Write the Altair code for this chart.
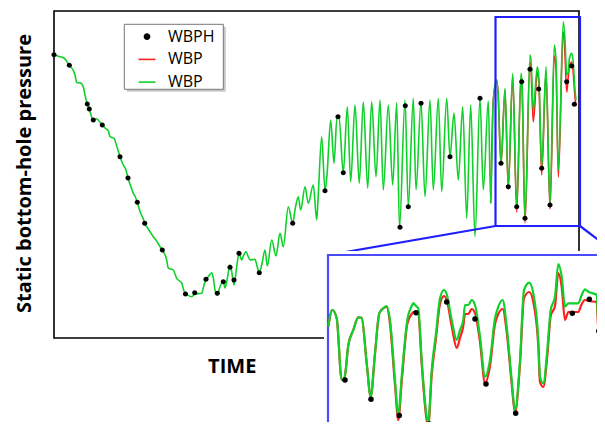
import altair as alt
import pandas as pd

# ---------------- main panel (time / pressure, arbitrary units) ----------------
main_t = [0, 6, 10, 15.3, 19, 21, 22.7, 26, 29.3, 31,
          33.3, 35.3, 37, 39.3, 42.7, 45, 48.3, 51, 54.3, 56,
          60, 63, 66, 69.3, 72, 74, 77, 79.3, 81, 83.3,
          86.7, 89, 90.7, 93, 96, 99.3, 102, 105, 108.3, 112.7,
          114.3, 117, 119.3, 122.7, 127.7, 130, 133, 137.7, 141, 147.7,
          150, 152, 154.3, 157.7, 159.3, 161, 163.3, 166, 169.3, 171,
          173.3, 176, 177.7, 180, 182.7, 185, 187.7, 189, 192, 194,
          196, 201, 203, 205.3, 207.7, 211, 213.3, 217.7, 222, 226,
          229.3, 234.3, 238.7, 241, 244.3, 246.7, 251, 254.3, 259.3, 262.7,
          264, 267.7, 271, 273, 276.7, 280, 283, 285, 289.3, 293.3,
          296.7, 301, 305.3, 309.3, 313.7, 317.7, 322, 326, 329.3, 334.3,
          338.7, 342.7, 345.5, 351, 354.3, 359.3, 362, 367, 371, 376,
          379.3, 384.3, 387.7, 392.7, 396, 400, 404.3, 408.7, 412.7, 416.7,
          421, 426, 429.3, 434.3, 436.7, 439.3, 442.7, 444, 447, 451,
          454.3, 458.7, 462.7, 467, 468, 471, 476, 477, 479.3, 483.3,
          485, 487.7, 492, 496, 500.3, 502, 504.3, 509.3, 511, 512.7,
          514, 515.5, 517.7, 519, 521, 522]
main_green_p = [283.3, 281.3, 280, 272.7, 268, 263, 255.3, 255.3, 251.3, 243,
                234, 229, 223, 218, 219.3, 217, 213, 210, 207, 201.3,
                199.7, 191, 181.3, 173, 168, 160, 151, 144.7, 142, 135.7,
                124.7, 120, 114.7, 111, 106.3, 101.3, 98, 93, 88, 78,
                69.7, 69, 68, 59.7, 55, 47, 43.5, 41.3, 44, 44.7,
                53, 58.7, 61.3, 65.3, 60, 48, 43, 51.3, 56.3, 50,
                59.7, 73, 66.3, 53, 71.3, 84.7, 78, 81, 86.3, 82,
                78, 78.7, 72, 65.3, 73, 88, 72, 98, 82, 104.7,
                91.3, 131.3, 114.7, 128, 141.3, 128, 151.3, 134.7, 153, 118,
                138, 201.3, 147.3, 163, 218, 174.7, 221, 221, 165.3, 231.3,
                156.3, 233, 154.7, 236.3, 149.7, 236.3, 161.3, 238, 148, 233,
                153, 235.3, 110, 238, 131.3, 239.7, 148, 236, 141.3, 238,
                148, 239.7, 146.3, 239.7, 181.3, 225, 158, 231.3, 119.7, 233,
                101.3, 239.7, 148, 237, 134.7, 238, 258, 246, 174.7, 249.7,
                151.3, 264.7, 131.3, 264.7, 256, 119.7, 283, 278, 228, 271.3,
                258, 169.7, 271.3, 133, 293, 278, 168, 316.3, 298, 263,
                265, 280, 284.7, 278, 248, 238]

red_t = [436.7, 439.3, 442.7, 444, 447, 451, 454.3, 458.7, 462.7, 467,
         468, 471, 476, 477, 479.3, 483.3, 485, 487.7, 492, 496,
         500.3, 502, 504.3, 509.3, 511, 512.7, 514, 515.5, 517.7, 519,
         521, 522]
red_p = [134.7, 238, 258, 246, 173, 248, 149, 262, 126, 260,
         252, 115, 276, 268, 216, 266, 252, 163, 266, 129,
         282, 270, 161, 306, 283, 246, 258, 272, 276, 268,
         241, 232]

dot_t = [0, 15.3, 33.3, 35.3, 39.3, 48.3, 66, 74, 83.3, 90.7,
         108.3, 131.5, 140.7, 152, 163.3, 169.3, 176, 180, 185, 205.3,
         238.7, 271, 284, 289.3, 346, 351.3, 354.3, 367, 396, 426,
         447, 454.3, 462.7, 467.7, 471, 476, 484.7, 487.7, 496, 512.7,
         517.7, 520.3]
dot_p = [283.3, 272.7, 234, 229, 218, 213, 181.3, 160, 135.7, 114.7,
         88, 44, 45.3, 58.7, 44.7, 56.3, 70.7, 58, 84.7, 65.3,
         114.7, 147.3, 221.3, 165.3, 110.7, 232.3, 131.3, 234.7, 181.3, 239.7,
         174.7, 151.3, 131.3, 256.3, 119.7, 268.7, 249, 169.7, 133, 256.3,
         272, 233.7]

# ---------------- inset (zoomed view) ----------------
inset_t = [0.3, 4.3, 8.7, 13.7, 16, 17.5, 20.3, 25.3, 30.3, 33.7,
           38.7, 42.7, 47, 51.3, 55.3, 58.7, 62, 67, 70.3, 73.7,
           79.3, 83.7, 85.5, 87, 90.3, 93.7, 98.7, 100.3, 103.7, 108,
           112, 116, 118.7, 123.7, 128.7, 132, 135.3, 137, 140.3, 143.7,
           147, 152, 157, 162, 167, 170.3, 174.7, 178.7, 183.7, 187,
           192, 196, 201.3, 205.3, 210.3, 212, 215.3, 219.3, 222.7, 227,
           230.3, 233.7, 237, 240.3, 250.3, 253.7, 257, 260.3, 268.7, 270.3,
           273.7, 277]
inset_green_p = [103.3, 120, 111.7, 50, 50, 58, 85, 100, 112.7, 112,
                 66.7, 33.3, 76.7, 116.7, 121.7, 124, 110, 50, 15, 53.3,
                 110, 124, 127, 125, 121.7, 70, 13.3, 8, 60, 96.7,
                 131.7, 140, 136, 110, 90, 100, 110, 125, 125, 130,
                 125, 93.3, 53.3, 70, 111.7, 123.3, 130, 103.3, 50, 20,
                 70, 140, 147.3, 136.7, 90, 53.3, 46.7, 80, 120, 133.3,
                 166, 153.3, 123.3, 126.7, 126.7, 135, 140.7, 138.3, 135, 106.7,
                 110, 112]
inset_red_p = [103.3, 120, 111.7, 50, 50, 58, 85, 100, 112.7, 112,
               66.7, 33.3, 76.7, 116.7, 121.7, 123, 106, 45, 10, 48,
               106, 116, 118, 118, 116, 66, 10, 5, 55, 92,
               126, 134, 130, 104, 82, 92, 104, 116, 116, 121,
               117, 88, 47, 64, 106, 116, 121, 98, 46, 17,
               66, 132, 138, 128, 84, 48, 43, 74, 114, 124,
               157, 143, 110, 118, 118, 126, 130, 129, 128, 100,
               104, 106]
inset_dot_t = [17, 43, 71.3, 88, 101.3, 118.7, 147, 158, 187.7, 244.3, 261.3, 270.7]
inset_dot_p = [50, 30.7, 14.5, 117.3, 6, 128, 111, 46, 16.7, 116.7, 130.7, 99]

series_domain = ["WBPH", "WBP (red)", "WBP (green)"]

RED = "#ff1f1f"
GREEN = "#10d02a"
BLUE = "#1f1fff"
INSET_BLUE = "#4a4aff"

# ---------------- data frames ----------------
green_df = pd.DataFrame({"t": main_t, "p": main_green_p, "series": "WBP (green)"})
red_df = pd.DataFrame({"t": red_t, "p": red_p, "series": "WBP (red)"})
dot_df = pd.DataFrame({"t": dot_t, "p": dot_p, "series": "WBPH"})

frame_df = pd.DataFrame([{"t0": 0, "t1": 525, "p0": 0, "p1": 327}])
box_df = pd.DataFrame([{"t0": 441.5, "t1": 526, "p0": 112, "p1": 321}])
conn_df = pd.DataFrame([{"t": 441.5, "p": 112, "tt": 274, "pp": 83},
                        {"t": 526, "p": 112, "tt": 551, "pp": 93}])
legbox_df = pd.DataFrame([{"t0": 70.3, "t1": 169.3, "p0": 248.7, "p1": 313.7}])
legshadow_df = pd.DataFrame([{"t0": 72.8, "t1": 171.8, "p0": 246.2, "p1": 311.2}])

inset_green_df = pd.DataFrame({"t": inset_t, "p": inset_green_p})
inset_red_df = pd.DataFrame({"t": inset_t, "p": inset_red_p})
inset_dot_df = pd.DataFrame({"t": inset_dot_t, "p": inset_dot_p})
inset_bg_df = pd.DataFrame([{"t0": -4, "t1": 300, "p0": -20, "p1": 179}])
inset_frame_df = pd.DataFrame([{"t0": 0, "t1": 320, "p0": -30, "p1": 175}])

# ---------------- scales / axes ----------------
mx = alt.Scale(domain=[0, 525], range=[46, 571], nice=False, zero=False)
my = alt.Scale(domain=[0, 327], range=[330, 3], nice=False, zero=False)
ix = alt.Scale(domain=[0, 277], range=[320, 597], nice=False, zero=False)
iy = alt.Scale(domain=[0, 176], range=[422, 246], nice=False, zero=False)

x_axis = alt.Axis(title="TIME", orient="bottom", domain=False, ticks=False, labels=False,
                  grid=False, titleFont="Open Sans", titleFontSize=20, titleFontWeight="bold",
                  titleColor="black", titleX=223.7, titleY=-55.3, titleAlign="center",
                  titleBaseline="middle")
y_axis = alt.Axis(title="Static bottom-hole pressure", orient="left", domain=False, ticks=False,
                  labels=False, grid=False, titleFont="Open Sans", titleFontSize=20,
                  titleFontWeight="bold", titleColor="black", titleAngle=270, titleX=16,
                  titleY=165, titleAlign="center", titleBaseline="middle")

CIRCLE_PATH = "M -0.3 0 A 0.3 0.3 0 1 0 0.3 0 A 0.3 0.3 0 1 0 -0.3 0 Z"

leg = alt.Legend(title=None, orient="none", legendX=129.5, legendY=19.2, padding=0,
                 rowPadding=4.7, labelOffset=11.5, labelFont="Open Sans", labelFontSize=16,
                 labelColor="black", symbolSize=289, symbolStrokeWidth=1.6,
                 labelExpr="datum.value == 'WBPH' ? 'WBPH' : 'WBP'")

stroke_scale = alt.Scale(domain=series_domain, range=["black", RED, GREEN])
shape_scale = alt.Scale(domain=series_domain, range=[CIRCLE_PATH, "stroke", "stroke"])


def MX(f):
    return alt.X(f, type="quantitative", scale=mx, axis=x_axis)


def MY(f):
    return alt.Y(f, type="quantitative", scale=my, axis=y_axis)


def IX(f):
    return alt.X(f, type="quantitative", scale=ix, axis=None)


def IY(f):
    return alt.Y(f, type="quantitative", scale=iy, axis=None)


frame = alt.Chart(frame_df).mark_rect(fillOpacity=0, stroke="black", strokeWidth=1.6).encode(
    x=MX("t0"), x2="t1", y=MY("p0"), y2="p1")
leg_shadow = alt.Chart(legshadow_df).mark_rect(fill="#b0b0b0", opacity=0.7).encode(
    x=MX("t0"), x2="t1", y=MY("p0"), y2="p1")
leg_box = alt.Chart(legbox_df).mark_rect(fill="white", stroke="#777777", strokeWidth=1).encode(
    x=MX("t0"), x2="t1", y=MY("p0"), y2="p1")
red_line = alt.Chart(red_df).mark_line(strokeWidth=1.6, interpolate="monotone").encode(
    x=MX("t"), y=MY("p"),
    stroke=alt.Stroke("series:N", scale=stroke_scale, legend=leg))
green_line = alt.Chart(green_df).mark_line(strokeWidth=1.6, interpolate="monotone").encode(
    x=MX("t"), y=MY("p"),
    stroke=alt.Stroke("series:N", scale=stroke_scale, legend=leg))
dots = alt.Chart(dot_df).mark_point(filled=True, size=289, opacity=1).encode(
    x=MX("t"), y=MY("p"),
    fill=alt.Fill("series:N", scale=stroke_scale, legend=leg),
    shape=alt.Shape("series:N", scale=shape_scale, legend=leg))
box = alt.Chart(box_df).mark_rect(fillOpacity=0, stroke=BLUE, strokeWidth=2.2).encode(
    x=MX("t0"), x2="t1", y=MY("p0"), y2="p1")
conn = alt.Chart(conn_df).mark_rule(color=BLUE, strokeWidth=2.2).encode(
    x=MX("t"), x2="tt", y=MY("p"), y2="pp")

main = alt.layer(frame, leg_shadow, leg_box, red_line, green_line, dots, box, conn)

inset_bg = alt.Chart(inset_bg_df).mark_rect(fill="white").encode(
    x=IX("t0"), x2="t1", y=IY("p0"), y2="p1")
inset_frame = alt.Chart(inset_frame_df).mark_rect(fillOpacity=0, stroke=INSET_BLUE, strokeWidth=2.2).encode(
    x=IX("t0"), x2="t1", y=IY("p0"), y2="p1")
inset_red = alt.Chart(inset_red_df).mark_line(color=RED, strokeWidth=2.2, interpolate="monotone").encode(
    x=IX("t"), y=IY("p"))
inset_green = alt.Chart(inset_green_df).mark_line(color=GREEN, strokeWidth=2.2, interpolate="monotone").encode(
    x=IX("t"), y=IY("p"))
inset_dots = alt.Chart(inset_dot_df).mark_circle(color="black", size=30, opacity=1).encode(
    x=IX("t"), y=IY("p"))

inset = alt.layer(inset_bg, inset_frame, inset_red, inset_green, inset_dots)

chart = alt.layer(main, inset).resolve_scale(x="independent", y="independent").properties(
    width=589, height=414, autosize=alt.AutoSizeParams(type="none"), padding=0
).configure_view(strokeWidth=0)

chart.save("out.html", embed_options={"renderer": "svg", "actions": False})
